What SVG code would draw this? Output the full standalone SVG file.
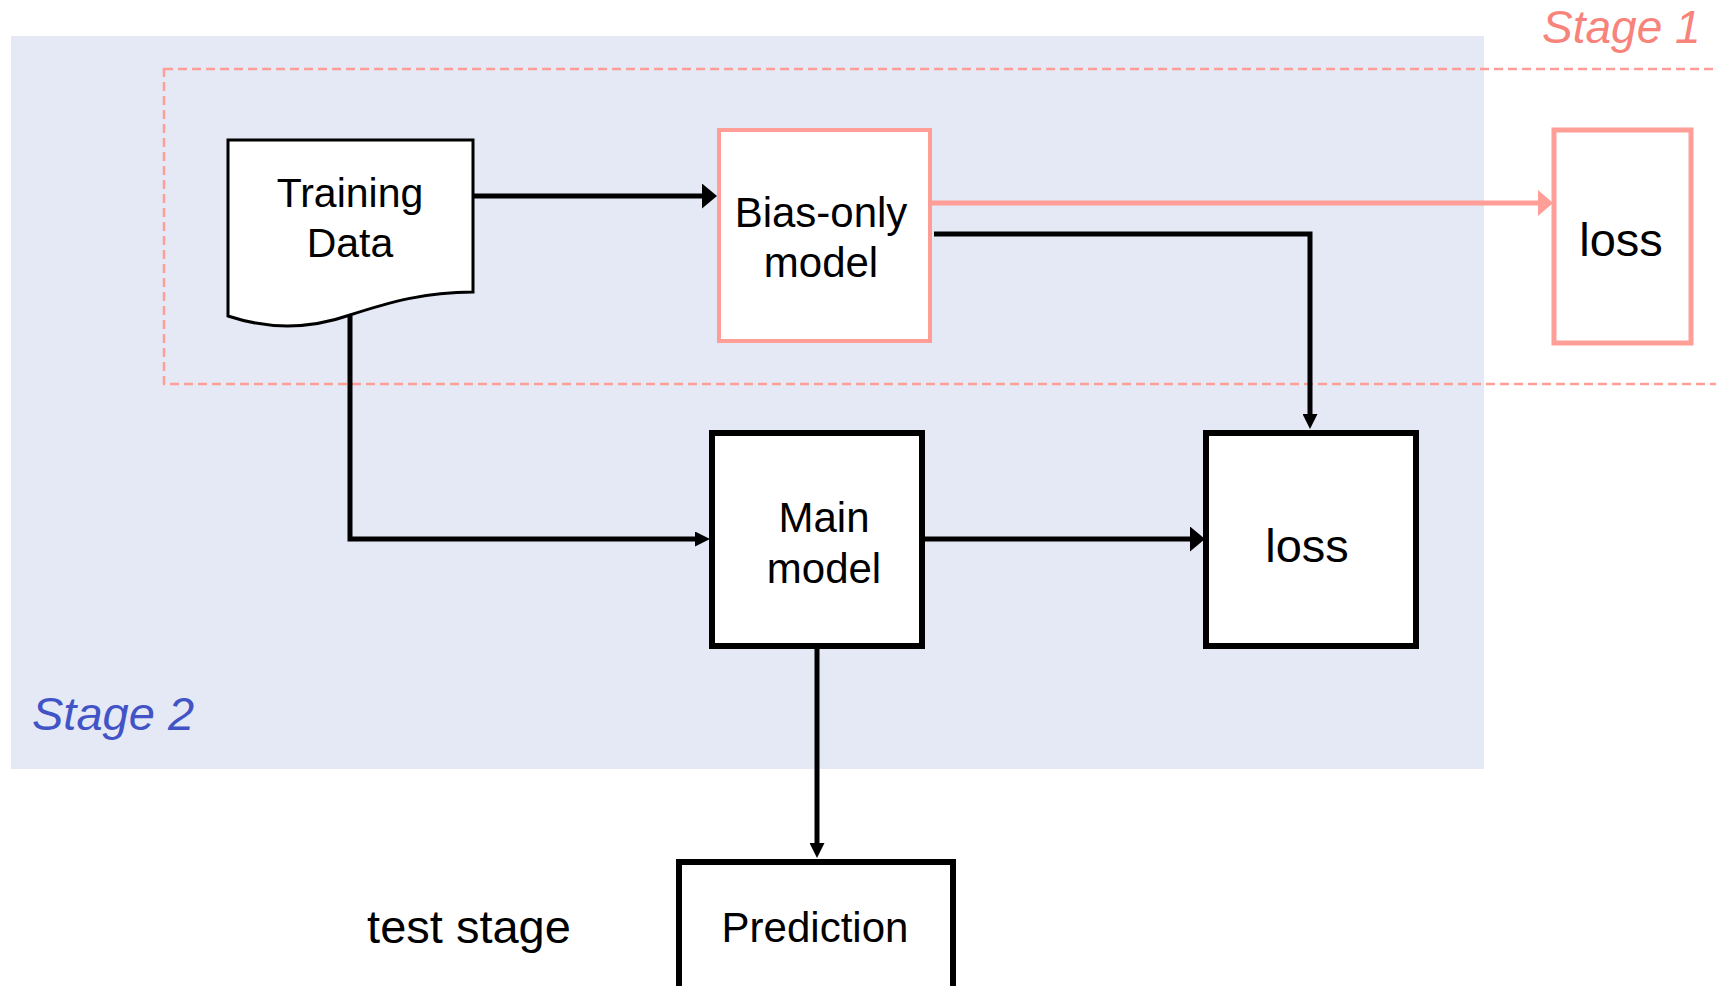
<svg xmlns="http://www.w3.org/2000/svg" width="1716" height="986" viewBox="0 0 1716 986">
<defs>
<style>
.t{font-family:"Liberation Sans",Arial,sans-serif;fill:#000;text-anchor:middle}
.blk{fill:#fff;stroke:#000;stroke-width:6}
.sal{fill:#fff;stroke:#FF9E96}
.c{fill:none;stroke:#000;stroke-width:5}
</style>
<marker id="big" markerUnits="userSpaceOnUse" markerWidth="15" markerHeight="25" refX="6" refY="12.5" orient="auto"><path d="M0,0 L15,12.5 L0,25 z" fill="#000"/></marker>
<marker id="small" markerUnits="userSpaceOnUse" markerWidth="15" markerHeight="15" refX="6" refY="7.5" orient="auto"><path d="M0,0 L15,7.5 L0,15 z" fill="#000"/></marker>
<marker id="bigsal" markerUnits="userSpaceOnUse" markerWidth="15" markerHeight="26" refX="6" refY="13" orient="auto"><path d="M0,0 L15,13 L0,26 z" fill="#FF9E96"/></marker>
</defs>
<rect width="1716" height="986" fill="#fff"/>
<g id="stage2-bg">
<rect x="11" y="36" width="1473" height="733" fill="#E5E9F5"/>
<text x="32" y="730" font-family="Liberation Sans, Arial, sans-serif" font-size="47" font-style="italic" fill="#4254C5">Stage 2</text>
</g>
<g id="stage1-region">
<rect x="164" y="69" width="1600" height="315" fill="none" stroke="#FF9E96" stroke-width="2.5" stroke-dasharray="9 5"/>
<text x="1542" y="43" font-family="Liberation Sans, Arial, sans-serif" font-size="46" font-style="italic" fill="#F7837B">Stage 1</text>
</g>
<g id="connectors">
<path class="c" d="M473,196 H708" marker-end="url(#big)"/>
<path d="M932,203 H1544" fill="none" stroke="#FF9E96" stroke-width="5" marker-end="url(#bigsal)"/>
<path class="c" d="M934,234 H1310 V420" marker-end="url(#small)"/>
<path class="c" d="M350,316 V539 H701" marker-end="url(#small)"/>
<path class="c" d="M924,539 H1196" marker-end="url(#big)"/>
<path class="c" d="M817,648 V849" marker-end="url(#small)"/>
</g>
<g id="training-data">
<path d="M228,140 H473 V292 C425,292 390,302 350,315 C310,329 270,330 228,316 Z" fill="#fff" stroke="#000" stroke-width="3"/>
<text class="t" x="350" y="207" font-size="41">Training</text>
<text class="t" x="350" y="257" font-size="41">Data</text>
</g>
<g id="bias-only-model">
<rect class="sal" x="719" y="130" width="211" height="211" stroke-width="4"/>
<text class="t" x="821" y="227" font-size="42">Bias-only</text>
<text class="t" x="821" y="277" font-size="42">model</text>
</g>
<g id="loss-stage1">
<rect class="sal" x="1554" y="130" width="137" height="213" stroke-width="5"/>
<text class="t" x="1621" y="256" font-size="47">loss</text>
</g>
<g id="main-model">
<rect class="blk" x="712" y="433" width="210" height="213"/>
<text class="t" x="824" y="532" font-size="42">Main</text>
<text class="t" x="824" y="583" font-size="42">model</text>
</g>
<g id="loss-stage2">
<rect class="blk" x="1206" y="433" width="210" height="213"/>
<text class="t" x="1307" y="562" font-size="47">loss</text>
</g>
<g id="prediction">
<rect class="blk" x="679" y="862" width="274" height="200"/>
<text class="t" x="815" y="942" font-size="42">Prediction</text>
</g>
<g id="test-stage-label">
<text class="t" x="469" y="943" font-size="47">test stage</text>
</g>
</svg>
